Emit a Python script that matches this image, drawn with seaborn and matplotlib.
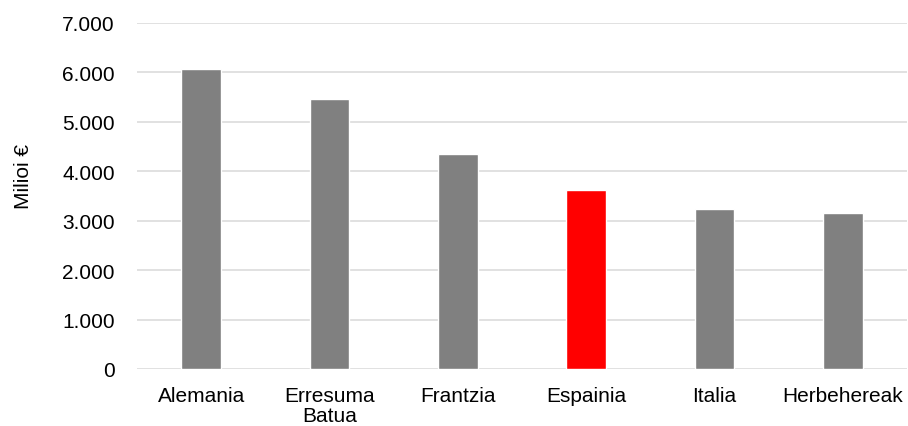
import matplotlib
matplotlib.use("Agg")
import matplotlib.pyplot as plt
import seaborn as sns
import pandas as pd

categories = ["Alemania", "Erresuma\nBatua", "Frantzia", "Espainia", "Italia", "Herbehereak"]
values = [6070, 5465, 4340, 3617, 3245, 3150]
colors = ["#808080", "#808080", "#808080", "#FF0000", "#808080", "#808080"]
yticks = [0, 1000, 2000, 3000, 4000, 5000, 6000, 7000]
ytick_labels = ["0", "1.000", "2.000", "3.000", "4.000", "5.000", "6.000", "7.000"]

sns.set_theme(style="white")
plt.rcParams["font.family"] = ["Liberation Sans", "DejaVu Sans"]

df = pd.DataFrame({"pais": categories, "valor": values})

fig = plt.figure(figsize=(9.08, 4.27), dpi=100)
ax = fig.add_axes([137 / 908, 57 / 427, 770 / 908, 346 / 427])

sns.barplot(data=df, x="pais", y="valor", hue="pais", palette=colors,
            order=categories, hue_order=categories, legend=False,
            width=0.31, saturation=1, ax=ax, zorder=3)

ax.set_ylim(0, 7000)
ax.set_xlim(-0.5, len(categories) - 0.5)
ax.set_yticks(yticks)
ax.set_yticklabels(ytick_labels)
ax.yaxis.grid(True, color="#D9D9D9", linewidth=1.1, zorder=0)
ax.set_axisbelow(True)
for s in ax.spines.values():
    s.set_visible(False)

ax.tick_params(axis="y", length=0, pad=16, labelsize=15, labelcolor="#000000")
ax.tick_params(axis="x", length=0, pad=12, labelsize=15, labelcolor="#000000")
for lbl in ax.get_xticklabels():
    lbl.set_linespacing(1.1)

ax.set_xlabel("")
ax.set_ylabel("Milioi €", fontsize=15, color="#000000")
ax.yaxis.set_label_coords(-0.135, 0.56)

fig.savefig("out.png", dpi=100)
